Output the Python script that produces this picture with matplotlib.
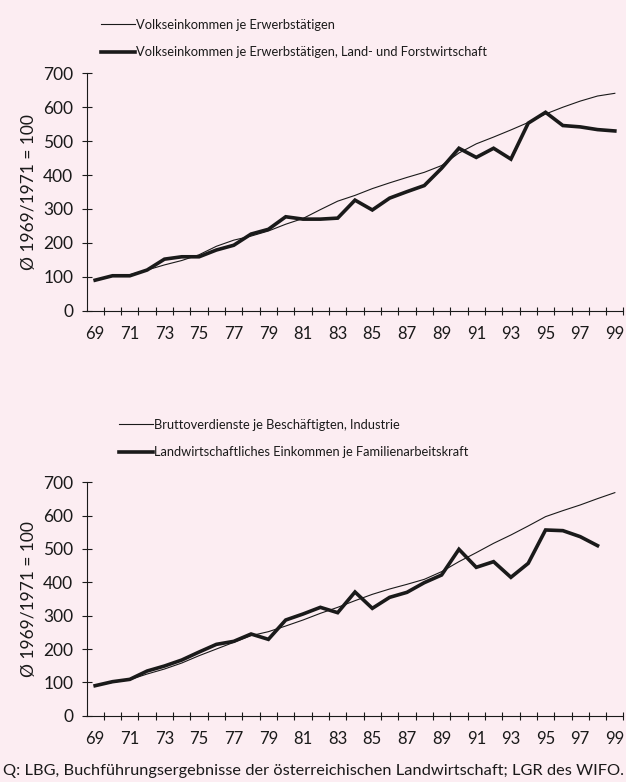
import matplotlib
matplotlib.use("Agg")
import matplotlib.pyplot as plt
from matplotlib.ticker import FixedLocator

plt.rcParams['font.family'] = ['Lato', 'DejaVu Sans']

years = list(range(1969, 2000))
year_labels = ["69", "71", "73", "75", "77", "79", "81", "83", "85", "87",
               "89", "91", "93", "95", "97", "99"]
y_ticks = [0, 100, 200, 300, 400, 500, 600, 700]

# Top panel
volk_all = [91, 102, 106, 120, 135, 148, 165, 190, 208, 220, 235, 255, 272, 298,
            323, 340, 360, 377, 393, 408, 428, 465, 492, 512, 533, 555, 580, 600,
            618, 633, 641]
volk_lfw = [90, 103, 103, 120, 152, 159, 159, 179, 193, 226, 240, 277, 270, 270,
            273, 326, 297, 332, 351, 369, 420, 479, 452, 479, 447, 553, 585, 546,
            542, 534, 530]
top_labels = ["Volkseinkommen je Erwerbstätigen",
              "Volkseinkommen je Erwerbstätigen, Land- und Forstwirtschaft"]

# Bottom panel
brutto_ind = [90, 100, 108, 125, 140, 158, 180, 200, 220, 240, 252, 269, 287, 307,
              325, 345, 364, 380, 394, 409, 432, 462, 489, 517, 542, 569, 597, 615,
              632, 651, 669]
lw_eink = [90, 102, 109, 134, 149, 167, 191, 214, 223, 245, 229, 287, 305, 325,
           309, 371, 322, 355, 370, 399, 422, 499, 445, 462, 415, 457, 557, 555,
           537, 510]
bottom_labels = ["Bruttoverdienste je Beschäftigten, Industrie",
                 "Landwirtschaftliches Einkommen je Familienarbeitskraft"]

ylabel = "Ø 1969/1971 = 100"
source = "Q: LBG, Buchführungsergebnisse der österreichischen Landwirtschaft; LGR des WIFO."

bg = "#fcedf2"
ink = "#1a1a1a"
W, H = 626, 782

fig = plt.figure(figsize=(W / 100, H / 100), dpi=100, facecolor=bg)


def make_axes(rect):
    ax = fig.add_axes(rect)
    ax.set_facecolor(bg)
    for s in ("top", "right"):
        ax.spines[s].set_visible(False)
    for s in ("left", "bottom"):
        ax.spines[s].set_color(ink)
        ax.spines[s].set_linewidth(0.8)
    ax.set_xlim(1968.5, 1999.5)
    ax.set_ylim(0, 700)
    ax.xaxis.set_major_locator(FixedLocator(years[::2]))
    ax.set_xticklabels(year_labels)
    ax.xaxis.set_minor_locator(FixedLocator([y + 0.5 for y in years]))
    ax.tick_params(axis="x", which="major", length=0, pad=11, labelsize=12,
                   colors=ink)
    ax.tick_params(axis="x", which="minor", length=6, direction="inout",
                   width=0.8, color=ink)
    ax.set_yticks(y_ticks)
    ax.tick_params(axis="y", which="major", length=7, direction="inout",
                   width=0.8, pad=6, labelsize=12.5, colors=ink)
    ax.set_ylabel(ylabel, fontsize=12.5, color=ink)
    ax.yaxis.set_label_coords(-0.093, 0.5)
    return ax


def frac(px_left, px_top, px_right, px_bottom):
    return [px_left / W, 1 - px_bottom / H, (px_right - px_left) / W,
            (px_bottom - px_top) / H]


leg_kw = dict(loc="upper left", frameon=False, fontsize=9.3,
              handlelength=2.6, handletextpad=0.08, labelspacing=1.2,
              borderpad=0, borderaxespad=0, labelcolor=ink)

ax1 = make_axes(frac(86.5, 73.3, 623.5, 310.7))
l1, = ax1.plot(years, volk_all, color=ink, lw=0.8, label=top_labels[0])
l2, = ax1.plot(years, volk_lfw, color=ink, lw=2.6, label=top_labels[1],
               solid_joinstyle="miter")
fig.legend(handles=[l1, l2], bbox_to_anchor=(101 / W, 1 - 19 / H), **leg_kw)

ax2 = make_axes(frac(86.5, 482.3, 623.5, 715.7))
l3, = ax2.plot(years, brutto_ind, color=ink, lw=0.8, label=bottom_labels[0])
l4, = ax2.plot(years[:len(lw_eink)], lw_eink, color=ink, lw=2.6,
               label=bottom_labels[1], solid_joinstyle="miter")
fig.legend(handles=[l3, l4], bbox_to_anchor=(119 / W, 1 - 419 / H), **leg_kw)

fig.text(3 / W, 1 - 771 / H, source, fontsize=11.8, color=ink, va="center",
         ha="left")

fig.savefig("out.png", dpi=100, facecolor=bg)
